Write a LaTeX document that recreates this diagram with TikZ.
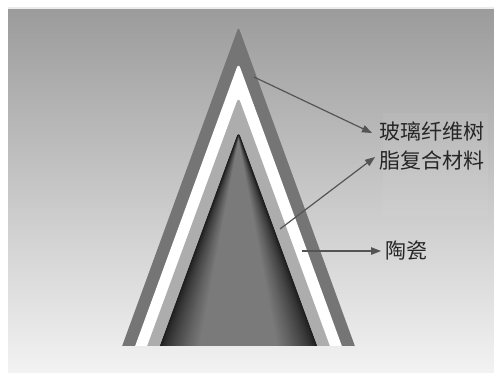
\documentclass[tikz,border=0pt]{standalone}
\usepackage{fontspec}
\usetikzlibrary{arrows.meta}
\newfontfamily\cjk{Noto Sans CJK SC}
\definecolor{bgtop}{gray}{0.61}
\definecolor{bgmid}{gray}{0.78}
\definecolor{bgbot}{gray}{0.95}
\definecolor{outerc}{gray}{0.46}
\definecolor{innerc}{gray}{0.68}
\definecolor{arrowc}{gray}{0.33}
\tikzset{
  leader/.style={draw=arrowc,line width=1.2pt,-{Triangle[length=10pt,width=7.5pt]}},
  lbl/.style={font=\cjk\fontsize{21}{24}\selectfont,text=black!85,inner sep=0pt,anchor=west}
}
\begin{document}
\begin{tikzpicture}[x=1pt,y=-1pt]
\useasboundingbox (0,0) rectangle (494,372);
\fill[white] (0,0) rectangle (494,372);
\fill[gray!15!white] (8,7) rectangle (494,9);
\shade[top color=bgtop,bottom color=bgbot,middle color=bgmid] (8,9) rectangle (494,372);
% pale patch behind the labels
\fill[white,opacity=0.05] (383,113) rectangle (488,215);
% layers
\begin{scope}
  \clip (0,0) rectangle (494,345);
  \fill[outerc,rounded corners=3pt] (115.2,365) -- (238.5,27) -- (361.8,365) -- cycle;
  \fill[white,rounded corners=5pt] (128.2,365) -- (238.5,63) -- (348.8,365) -- cycle;
  \fill[innerc,rounded corners=5pt] (140.2,365) -- (238.5,97) -- (336.8,365) -- cycle;
  \begin{scope}
    \path[clip,rounded corners=6pt] (152.7,365) -- (238.5,131) -- (324.3,365) -- cycle;
    \fill[black!88] (140,125) rectangle (340,365);
    % conic shading: nested triangles from the dark rim to the lighter axis
    \foreach \i in {1,...,39}{
      \pgfmathsetmacro{\w}{85.8*(1-\i/40)}
      \pgfmathsetmacro{\g}{0.12+0.36*min(1,\i/20)^0.8}
      \pgfmathsetmacro{\ay}{135+0.25*\i}
      \definecolor{slice}{gray}{\g}
      \fill[slice] (238.5-\w,365) -- (238.5,\ay) -- (238.5+\w,365) -- cycle;
    }
  \end{scope}
  % smooths the rim of the clipped cone
  \draw[innerc,line width=0.9pt,rounded corners=6pt] (152.2,365) -- (238.5,129.6) -- (324.8,365);
\end{scope}
% labels
\node[lbl] (t1) at (379.5,131) {玻璃纤维树};
\node[lbl] (t2) at (379.5,160) {脂复合材料};
\node[lbl] (t3) at (385,251) {陶瓷};
% connectors
\coordinate (s1) at (254,77);
\coordinate (e1) at (372,133);
\coordinate (s2) at (280,229);
\coordinate (e2) at (375,157);
\coordinate (s3) at (302,251);
\coordinate (e3) at (381,251);
\draw[leader] (s1) -- (e1);
\draw[leader] (s2) -- (e2);
\draw[leader] (s3) -- (e3);
\end{tikzpicture}
\end{document}
